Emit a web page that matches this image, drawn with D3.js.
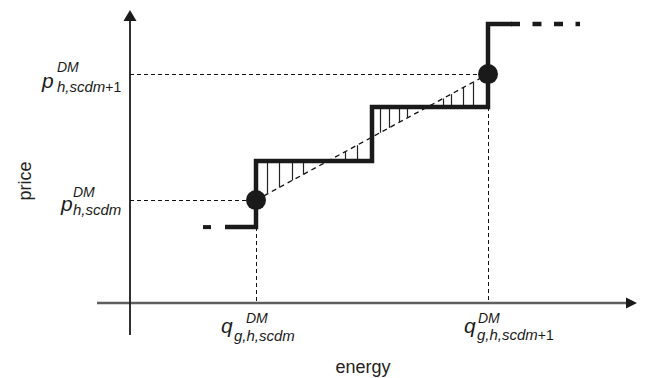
<!DOCTYPE html>
<html>
<head>
<meta charset="utf-8">
<script src="https://cdn.jsdelivr.net/npm/d3@7"></script>
<style>
  body { margin: 0; background: #fff; }
  svg { display: block; font-family: "Liberation Sans", Arial, sans-serif; }
</style>
</head>
<body>
<div id="chart"></div>
<script>
// step offer curve: block edges (energy) and block prices
const stepEnergy = [19, 25.2, 48.4, 71.6, 76.4];
const stepPrice = [25.3, 47.3, 65.3, 93, 93];
// cleared points (energy, price)
const clearQ = [25.2, 71.6];
const clearP = [34.3, 76.3];
// dashed continuations of the curve
const leftDash = [14.6, 16.2];
const rightDash = [76.2, 90];
// vertical hatch positions between curve and interpolation line
const hatchEnergy = [27.4, 29.8, 32.4, 34.6, 43, 45.4, 50, 51.8, 53.8, 55.4, 62.6, 64.2, 66.6, 68.6];

const width = 648, height = 378;

const svg = d3.select('#chart').append('svg')
  .attr('width', width)
  .attr('height', height);

const x = d3.scaleLinear().domain([0, 100]).range([130, 630]);
const y = d3.scaleLinear().domain([0, 100]).range([303, 3]);

// x axis
svg.append('line')
  .attr('x1', x(-6.6)).attr('x2', x(99.4))
  .attr('y1', y(0)).attr('y2', y(0))
  .attr('stroke', '#5e5e5e').attr('stroke-width', 2.4);
svg.append('path')
  .attr('d', `M${x(99.2)},${y(0) - 5.5}L${x(101.4)},${y(0)}L${x(99.2)},${y(0) + 5.5}Z`)
  .attr('fill', '#1a1a1a');

// y axis
svg.append('line')
  .attr('x1', x(0)).attr('x2', x(0))
  .attr('y1', y(-10.7)).attr('y2', y(94))
  .attr('stroke', '#1a1a1a').attr('stroke-width', 1.8);
svg.append('path')
  .attr('d', `M${x(0) - 6.5},${y(94)}L${x(0)},${y(97.7)}L${x(0) + 6.5},${y(94)}Z`)
  .attr('fill', '#1a1a1a');

// guide lines to the axes (snapped to half pixels so they stay crisp)
const snap = v => Math.round(v) + 0.5;
const guides = svg.append('g')
  .attr('stroke', '#111').attr('stroke-width', 1).attr('stroke-dasharray', '4,3')
  .attr('shape-rendering', 'crispEdges')
  .attr('fill', 'none');
clearQ.forEach((q, i) => {
  guides.append('line')
    .attr('x1', x(0)).attr('x2', x(q))
    .attr('y1', snap(y(clearP[i]))).attr('y2', snap(y(clearP[i])));
  const below = stepPrice[d3.bisectRight(stepEnergy, q) - 2];
  guides.append('line')
    .attr('x1', snap(x(q))).attr('x2', snap(x(q)))
    .attr('y1', y(below)).attr('y2', y(0));
});

// interpolation line between cleared points
const interp = d3.scaleLinear().domain(clearQ).range(clearP);
svg.append('line')
  .attr('x1', x(clearQ[0])).attr('x2', x(clearQ[1]))
  .attr('y1', y(clearP[0])).attr('y2', y(clearP[1]))
  .attr('stroke', '#111').attr('stroke-width', 1.3).attr('stroke-dasharray', '5,4');

// hatching
const stepAt = e => stepPrice[d3.bisectRight(stepEnergy, e) - 1];
svg.append('g').selectAll('line')
  .data(hatchEnergy)
  .enter().append('line')
  .attr('x1', d => snap(x(d))).attr('x2', d => snap(x(d)))
  .attr('y1', d => y(stepAt(d))).attr('y2', d => y(interp(d)))
  .attr('stroke', '#222').attr('stroke-width', 1.2);

// step curve
const stepLine = d3.line()
  .x(d => x(d[0]))
  .y(d => y(d[1]))
  .curve(d3.curveStepAfter);
svg.append('path')
  .datum(stepEnergy.map((e, i) => [e, stepPrice[i]]))
  .attr('d', stepLine)
  .attr('fill', 'none')
  .attr('stroke', '#1a1a1a')
  .attr('stroke-width', 4.5);

// dashed continuations
svg.append('line')
  .attr('x1', x(leftDash[0])).attr('x2', x(leftDash[1]))
  .attr('y1', y(stepPrice[0])).attr('y2', y(stepPrice[0]))
  .attr('stroke', '#1a1a1a').attr('stroke-width', 4);
svg.append('line')
  .attr('x1', x(rightDash[0])).attr('x2', x(rightDash[1]))
  .attr('y1', y(stepPrice[stepPrice.length - 1])).attr('y2', y(stepPrice[stepPrice.length - 1]))
  .attr('stroke', '#1a1a1a').attr('stroke-width', 4.5)
  .attr('stroke-dasharray', '9,12.5');

// cleared points
svg.append('g').selectAll('circle')
  .data(clearQ)
  .enter().append('circle')
  .attr('cx', d => x(d))
  .attr('cy', (d, i) => y(clearP[i]))
  .attr('r', 10)
  .attr('fill', '#1a1a1a');

// math labels: base letter, DM superscript, italic subscript with upright tail
function mathLabel(px, py, base, sub, tail, supDx, supDy, subDx, subDy) {
  const g = svg.append('g').attr('fill', '#1a1a1a');
  g.append('text')
    .attr('x', px).attr('y', py)
    .style('font-size', '21px').style('font-style', 'italic')
    .text(base);
  g.append('text')
    .attr('x', px + supDx).attr('y', py + supDy)
    .style('font-size', '14px').style('font-style', 'italic')
    .text('DM');
  const s = g.append('text')
    .attr('x', px + subDx).attr('y', py + subDy)
    .style('font-size', '15px');
  s.append('tspan').style('font-style', 'italic').text(sub);
  if (tail) s.append('tspan').style('font-size', '14px').text(tail);
}

// price labels
mathLabel(42, y(clearP[1]) + 14, 'p', 'h,scdm', '+1', 15, -16, 15, 4);
mathLabel(61, y(clearP[0]) + 11, 'p', 'h,scdm', '', 12, -14, 12, 4);
// energy labels
mathLabel(x(clearQ[0]) - 35, 333, 'q', 'g,h,scdm', '', 25, -10, 13, 8);
mathLabel(x(clearQ[1]) - 24, 333, 'q', 'g,h,scdm', '+1', 14, -10, 13, 7);

// axis titles
svg.append('text')
  .attr('x', 363).attr('y', 373)
  .attr('text-anchor', 'middle')
  .style('font-size', '18px')
  .style('fill', '#222')
  .text('energy');
svg.append('text')
  .attr('transform', 'translate(31,181) rotate(-90)')
  .attr('text-anchor', 'middle')
  .style('font-size', '18px')
  .style('fill', '#222')
  .text('price');
</script>
</body>
</html>
